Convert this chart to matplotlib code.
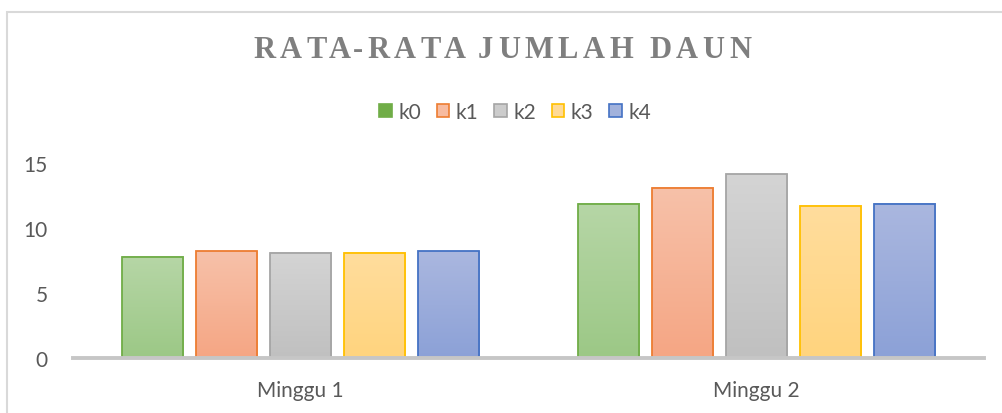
import matplotlib.pyplot as plt
import numpy as np
from matplotlib.patches import Patch, Rectangle
from matplotlib.colors import LinearSegmentedColormap

categories = ['Minggu 1', 'Minggu 2']
series = ['k0', 'k1', 'k2', 'k3', 'k4']
k0 = [7.8, 11.85]
k1 = [8.2, 13.1]
k2 = [8.1, 14.15]
k3 = [8.1, 11.7]
k4 = [8.2, 11.85]
yticks = [0, 5, 10, 15]
title = 'RATA-RATA JUMLAH DAUN'

edge_colors = ['#70ad47', '#ed7d31', '#a5a5a5', '#ffc000', '#4472c4']
top_colors = ['#b6d6a6', '#f7c1a9', '#d4d4d4', '#ffdd9d', '#aab7df']
bottom_colors = ['#9cc886', '#f5a684', '#c0c0c0', '#ffd47e', '#8ca1d7']
legend_fill = ['#70ad47', '#f7bba0', '#cccccc', '#ffda96', '#a2b2dc']

plt.rcParams['font.family'] = ['Lato', 'DejaVu Sans']
text_color = '#595959'

fig = plt.figure(figsize=(10.02, 4.14), dpi=100)
ax = fig.add_axes([73 / 1002, 55 / 414, 911 / 1002, 208 / 414])

x = np.arange(len(categories))
width = 0.134
step = 0.1625
grad = np.linspace(0, 1, 64).reshape(-1, 1)
for i, vals in enumerate([k0, k1, k2, k3, k4]):
    bars = ax.bar(x + (i - 2) * step, vals, width, facecolor='none',
                  edgecolor=edge_colors[i], linewidth=1.3, zorder=3)
    cmap = LinearSegmentedColormap.from_list(series[i], [bottom_colors[i], top_colors[i]])
    for b in bars:
        x0 = b.get_x()
        ax.imshow(grad, cmap=cmap, origin='lower', aspect='auto',
                  extent=[x0, x0 + width, 0, b.get_height()], zorder=2)

ax.set_xlim(-0.5, 1.5)
ax.set_ylim(0, 16)
ax.axhline(0, color='#c6c6c6', lw=2.8, zorder=4, clip_on=False)
for s in ax.spines.values():
    s.set_visible(False)
ax.set_xticks(x)
ax.set_xticklabels(categories)
ax.set_yticks(yticks)
ax.tick_params(length=0, labelsize=15, labelcolor=text_color)
ax.tick_params(axis='y', pad=18)
ax.tick_params(axis='x', pad=16)

# legend
handles = [Patch(facecolor=legend_fill[i], edgecolor=edge_colors[i], linewidth=1.2)
           for i in range(len(series))]
fig.legend(handles, series, loc='center', bbox_to_anchor=(515 / 1002, 1 - 113 / 414),
           ncol=5, frameon=False, fontsize=15, labelcolor=text_color,
           handlelength=0.62, handleheight=0.62, handletextpad=0.3,
           columnspacing=0.75, borderaxespad=0)

# outer chart frame (cropped on right and bottom)
fig.add_artist(Rectangle((7 / 1002, -0.1), 1.2, (414 - 13) / 414 + 0.1,
                         transform=fig.transFigure, fill=False,
                         edgecolor='#d9d9d9', lw=1.5))

# title with letter spacing
fig.canvas.draw()
r = fig.canvas.get_renderer()
tprops = dict(family='Liberation Serif', weight='bold', size=22, color='#7f7f7f')
probe = fig.text(0, 0, '|', **tprops)
bar_w = probe.get_window_extent(r).width
probe.remove()
spacing = 4.5
offsets = []
for j in range(len(title)):
    t = fig.text(0, 0, title[:j] + '|', **tprops)
    offsets.append(t.get_window_extent(r).width - bar_w + j * spacing)
    t.remove()
t = fig.text(0, 0, title, **tprops)
total = t.get_window_extent(r).width + (len(title) - 1) * spacing
t.remove()
x_start = 502 - total / 2
for j, ch in enumerate(title):
    fig.text((x_start + offsets[j]) / 1002, 1 - 51 / 414, ch, ha='left', va='center', **tprops)

fig.savefig('out.png', dpi=100)
